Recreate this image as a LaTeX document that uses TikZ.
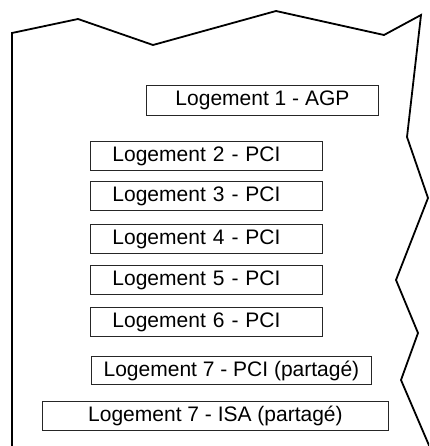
\documentclass[tikz,border=0pt]{standalone}
\usepackage{fontspec}
\setmainfont{Liberation Sans}
\begin{document}
\begin{tikzpicture}[x=1pt,y=-1pt,
  slotbox/.style={draw=black!85, line width=0.9pt, anchor=north west, inner sep=0pt,
    font=\fontsize{21}{25}\selectfont, minimum height=29pt},
  leftbox/.style={slotbox, text width=188pt, inner xsep=22pt, align=left},
  outline/.style={line width=1.8pt, line join=miter}]
\useasboundingbox (0,0) rectangle (429,446);
\begin{scope}
\clip (0,0) rectangle (429,446);
\draw[outline] (12,450) -- (12,33) -- (78,19) -- (153,45) -- (276,11) -- (384,35)
  -- (421,15) -- (407,137) -- (428,198) -- (396,280) -- (418,333) -- (401,380) -- (431,450);
\end{scope}
\node[slotbox, minimum width=232pt, minimum height=30pt] (s1) at (146,85) {Logement 1 - AGP};
\node[leftbox] (s2) at (90,141) {Logement 2 - PCI};
\node[leftbox] (s3) at (90,181) {Logement 3 - PCI};
\node[leftbox] (s4) at (90,224) {Logement 4 - PCI};
\node[leftbox] (s5) at (90,265) {Logement 5 - PCI};
\node[leftbox] (s6) at (90,307) {Logement 6 - PCI};
\node[slotbox, minimum width=280pt, minimum height=28pt] (s7) at (91,356) {Logement 7 - PCI (partagé)};
\node[slotbox, minimum width=346pt] (s8) at (42,401) {Logement 7 - ISA (partagé)};
\end{tikzpicture}
\end{document}
